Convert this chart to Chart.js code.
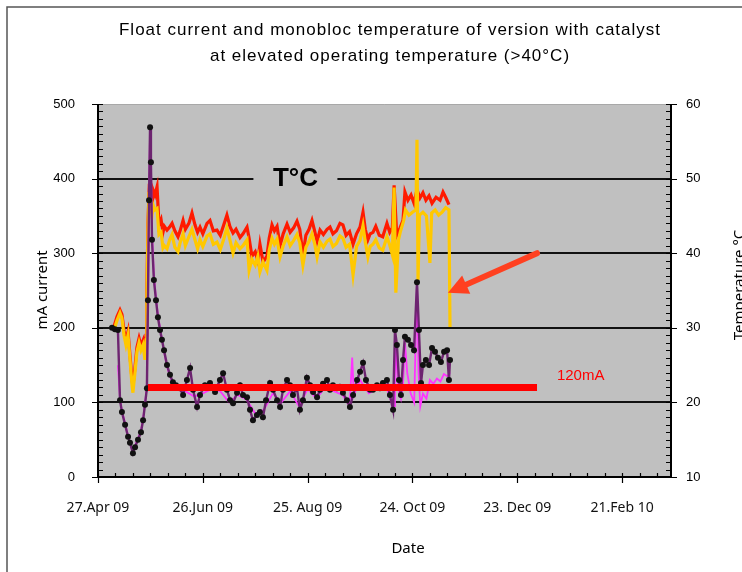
<!DOCTYPE html>
<html>
<head>
<meta charset="utf-8">
<script src="https://cdn.jsdelivr.net/npm/chart.js@4.4.0/dist/chart.umd.min.js"></script>
<style>
  html, body { margin: 0; padding: 0; background: #fff; }
</style>
</head>
<body>
<canvas id="floatChart" width="742" height="572"></canvas>
<script>
// x axis is days counted from 27 Apr 2009
var dateLabels = ["27.Apr 09", "26.Jun 09", "25. Aug 09", "24. Oct 09", "23. Dec 09", "21.Feb 10"];

// monobloc temperature, upper (red) trace, deg C
var tempRedDays = [
  9.2, 10.9, 12.6, 13.7, 14.9, 16.0, 17.2, 18.3, 19.5, 20.0,
  21.2, 22.3, 23.5, 24.6, 25.8, 26.9, 27.5, 28.0, 28.6, 29.2,
  29.8, 30.9, 31.5, 32.6, 33.8, 34.9, 36.1, 37.2,
  38, 39.5, 41, 42.4, 44, 45.8, 47, 48.7, 50, 52,
  53.8, 55.5, 57, 58.4, 60, 62.4, 64.1, 66, 68.1, 70,
  72, 73.8, 75.5, 77.3, 79, 81.3, 83, 85.3, 86.5, 88.1,
  90, 91.5, 92.7, 94.5, 96.7, 98, 99.6, 101, 102.5, 104.2,
  106, 108.2, 110, 112, 113.9, 115.5, 117.3, 119, 120.8, 122.5,
  124, 125.4, 127.1, 129, 131.1, 132.8, 134.5, 136.5, 138.5, 140.2,
  142, 144, 146, 148, 150, 151.7, 153, 154.5, 155.8, 157.4,
  159, 161, 163, 165.4, 167, 168.5,
  169.5, 171, 172.9, 174.6, 175.7, 177.4, 179.2, 180.9, 182.6, 184.3,
  186, 187.7, 189.5, 191.2, 193.5, 195.8, 197.5, 199.2, 200.9
];
var tempRed = [
  30.2, 31.5, 32.4, 31.8, 29.6, 28.3, 29.5, 26.3, 23.0, 22.2,
  24.8, 27.4, 28.6, 27.6, 28.3, 26.4, 29.0, 35.0, 44.0, 48.0,
  47.5, 46.3, 48.5, 47.8, 48.9, 43.8, 44.5, 42.8,
  43.6, 43.1, 43.5, 44.0, 43.0, 42.2, 43.0, 44.4, 43.2, 44.0,
  45.4, 43.8, 42.8, 43.5, 42.6, 44.0, 44.4, 43.0, 43.1, 42.4,
  43.8, 45.1, 43.6, 42.7, 43.2, 42.1, 42.6, 43.5, 42.0, 39.6,
  40.2, 39.0, 41.2, 38.8, 39.6, 42.0, 43.8, 43.0, 43.6, 41.0,
  42.6, 43.9, 42.8, 43.4, 44.3, 43.2, 39.8, 42.4, 43.2, 44.4,
  43.0, 41.6, 43.1, 42.5, 43.2, 43.5, 42.6, 43.0, 44.0, 43.8,
  42.4, 42.9, 41.2, 42.6, 43.5, 45.5, 43.2, 41.8, 42.6, 42.8,
  43.6, 42.4, 42.2, 44.0, 42.8, 43.4,
  49.1, 42.4, 43.4, 44.4, 48.2, 47.1, 47.8, 46.7, 48.5, 47.4,
  48.1, 47.1, 47.7, 46.7, 47.5, 47.1, 48.2, 47.4, 46.5
];

// monobloc temperature, lower (yellow) trace, deg C
var tempYellowDays = [
  9.2, 10.9, 12.6, 13.7, 14.9, 16.0, 17.2, 18.3, 19.5, 20.0,
  21.2, 22.3, 23.5, 24.6, 25.8, 26.9, 27.5, 28.0, 28.6, 29.2,
  29.8, 30.9, 31.5, 32.6, 33.8, 34.9, 36.1, 37.2,
  38, 39.5, 41, 42.4, 44, 45.8, 47, 48.7, 50, 52,
  53.8, 55.5, 57, 58.4, 60, 62.4, 64.1, 66, 68.1, 70,
  72, 73.8, 75.5, 77.3, 79, 81.3, 83, 85.3, 86.5, 88.1,
  90, 91.5, 92.7, 94.5, 96.7, 98, 99.6, 101, 102.5, 104.2,
  106, 108.2, 110, 112, 113.9, 115.5, 117.3, 119, 120.8, 122.5,
  124, 125.4, 127.1, 129, 131.1, 132.8, 134.5, 136.5, 138.5, 140.2,
  142, 144, 146, 148, 150, 151.7, 153, 154.5, 155.8, 157.4,
  159, 161, 163, 165.4, 167, 168.5,
  169.5, 170.5, 172, 173, 175, 176, 178, 180, 182, 182.6,
  183.2, 184, 186, 188, 190, 191, 193, 195, 197, 199,
  200.9, 201.5
];
var tempYellow = [
  29.7, 31.0, 32.0, 31.3, 29.0, 27.7, 29.0, 25.7, 22.3, 21.3,
  24.1, 26.8, 28.0, 27.0, 27.7, 25.7, 28.4, 34.1, 43.1, 48.2,
  47.1, 45.1, 46.5, 45.8, 46.0, 42.5, 42.8, 40.7,
  41.0, 40.6, 41.8, 42.5, 40.8, 40.2, 41.4, 42.6, 41.0, 42.2,
  43.2, 41.8, 40.6, 41.8, 40.9, 42.3, 42.6, 41.2, 41.5, 40.5,
  41.9, 43.4, 41.8, 40.0, 41.4, 40.6, 41.0, 41.8, 37.7, 39.2,
  38.4, 39.6, 37.5, 38.8, 37.7, 40.4, 42.0, 41.2, 41.9, 39.5,
  41.0, 42.2, 41.0, 41.7, 42.5, 41.4, 38.4, 40.8, 41.6, 42.6,
  41.3, 39.5, 41.5, 40.8, 41.6, 41.9, 40.9, 41.3, 42.3, 42.0,
  40.8, 41.2, 37.1, 40.9, 41.7, 43.7, 41.5, 39.5, 40.9, 41.2,
  41.8, 40.7, 40.4, 42.2, 41.1, 39.8,
  48.8, 34.7, 41.8, 42.8, 44.4, 45.8, 45.1, 45.5, 45.8, 55.2,
  36.4, 45.1, 45.5, 45.0, 38.7, 45.4, 45.8, 45.1, 45.5, 46.1,
  45.8, 30.1
];

// float current, black markers, mA
var currentBlackDays = [
  8.0, 9.7, 11.4, 12.6, 13.7, 15.5, 17.2, 18.3, 20.0, 21.2,
  22.9, 24.6, 25.8, 26.9, 28.0, 28.6, 29.2, 29.8, 30.3, 30.9,
  32.0, 33.2, 34.3, 35.5, 36.6, 37.8, 39.5, 41.2, 42.9, 44.6,
  46.9, 48.7, 50.9, 52.7, 54.4, 56.7, 58.4, 61.2, 64.1, 67.0,
  69.8, 71.6, 73.8, 75.6, 77.3, 79.6, 81.3, 83.0, 85.3, 87.0,
  88.7, 91.0, 92.7, 94.4, 96.2, 98.5, 100.2, 102.5, 104.2, 105.9,
  108.2, 109.9, 111.6, 113.9, 115.6, 117.3, 119.6, 121.4, 123.1, 125.4,
  127.1, 128.8, 131.1, 132.8, 134.5, 136.8, 138.5, 140.2, 142.5, 144.2,
  146.0, 148.3, 150.0, 151.7, 153.4, 155.7, 157.4, 159.7, 161.4, 163.1,
  165.4, 167.1, 168.9, 170.0, 171.1, 172.3, 173.4, 174.6, 175.7, 177.4,
  179.2, 180.9, 182.6, 183.7, 184.9, 186.0, 187.7, 189.5, 191.2, 192.9,
  194.6, 196.3, 198.1, 199.8, 200.9, 201.5
];
var currentBlack = [
  200, 198, 197, 103, 87, 70, 54, 46, 32, 40,
  50, 60, 76, 97, 119, 237, 371, 469, 422, 318,
  264, 237, 214, 197, 184, 170, 150, 137, 127, 123,
  119, 110, 130, 146, 117, 94, 110, 123, 126, 114,
  130, 139, 117, 103, 99, 113, 123, 110, 107, 90,
  76, 83, 87, 80, 103, 126, 117, 103, 94, 117,
  130, 123, 110, 119, 90, 103, 133, 123, 114, 107,
  117, 125, 130, 117, 123, 119, 121, 113, 103, 94,
  110, 130, 141, 153, 130, 117, 117, 123, 119, 126,
  130, 110, 90, 197, 177, 130, 110, 157, 188, 184,
  177, 170, 261, 197, 126, 150, 157, 150, 173, 168,
  160, 154, 168, 170, 130, 157
];

// float current, magenta trace, mA
var currentMagentaDays = [
  11.4, 12.6, 13.7, 15.5, 17.2, 18.3, 20.0, 21.2, 22.9, 24.6,
  25.8, 26.9, 28.0, 28.6, 29.2, 29.8, 30.3, 30.9, 32.0, 33.2,
  34.3, 35.5, 36.6, 37.8, 39.5, 41.2, 42.9, 44.6, 46.9, 50,
  55, 60, 65, 70, 75, 80, 85, 90, 95, 100,
  105, 110, 115, 120, 125, 130, 135, 140, 144, 145.5,
  146.5, 150, 155, 160, 165, 168, 169.5, 170, 171, 172,
  173.4, 174.6, 175.7, 177, 179, 181, 182.6, 183.5, 184.5, 186,
  188, 190, 192, 194, 196, 198, 200, 201.5
];
var currentMagenta = [
  150, 105, 88, 72, 55, 47, 33, 42, 52, 62,
  78, 99, 121, 240, 372, 465, 420, 330, 270, 240,
  217, 200, 185, 168, 148, 135, 125, 120, 116, 115,
  108, 112, 118, 115, 100, 110, 104, 85, 90, 112,
  100, 115, 95, 118, 105, 120, 115, 110, 95, 160,
  110, 130, 112, 118, 122, 100, 95, 190, 150, 118,
  105, 125, 180, 140, 112, 100, 261, 140, 95, 112,
  105, 130, 125, 132, 128, 138, 135, 140
];

// 120 mA reference level
var limitDays = [28.6, 251.3];
var limitCurrent = [120, 120];

function pts(days, vals) {
  return days.map(function (d, i) { return { x: d, y: vals[i] }; });
}

var tickFont = { family: "'Liberation Sans', Arial, sans-serif", size: 13 };
var dateFont = { family: "'Noto Sans', 'DejaVu Sans', sans-serif", size: 14 };

var decor = {
  id: 'decor',
  beforeDraw: function (chart) {
    var c = chart.ctx, a = chart.chartArea;
    c.save();
    c.fillStyle = '#fff';
    c.fillRect(0, 0, chart.width, chart.height);
    c.fillStyle = '#c0c0c0';
    c.fillRect(a.left, a.top, a.right - a.left, a.bottom - a.top);
    c.restore();
  },
  afterDraw: function (chart) {
    var c = chart.ctx, a = chart.chartArea;
    var xs = chart.scales.x, ys = chart.scales.y, ts = chart.scales.y1;
    var v, p;
    c.save();

    // axis lines
    c.strokeStyle = '#000';
    c.lineWidth = 2;
    c.beginPath();
    c.moveTo(a.left, a.top); c.lineTo(a.left, a.bottom + 1);
    c.moveTo(a.right, a.top); c.lineTo(a.right, a.bottom + 1);
    c.moveTo(a.left - 1, a.bottom); c.lineTo(a.right + 1, a.bottom);
    c.stroke();
    c.strokeStyle = '#a8a8a8';
    c.lineWidth = 1;
    c.beginPath();
    c.moveTo(a.left, a.top + 0.5); c.lineTo(a.right, a.top + 0.5);
    c.stroke();

    // tick marks
    c.strokeStyle = '#000';
    c.lineWidth = 1.2;
    c.beginPath();
    for (v = 0; v <= 500; v += 10) {
      p = Math.round(ys.getPixelForValue(v)) + 0.5;
      c.moveTo(v % 100 === 0 ? a.left - 6 : a.left, p);
      c.lineTo(a.left + 5, p);
    }
    for (v = 10; v <= 60; v += 1) {
      p = Math.round(ts.getPixelForValue(v)) + 0.5;
      c.moveTo(a.right - 5, p);
      c.lineTo(v % 10 === 0 ? a.right + 6 : a.right, p);
    }
    for (v = 0; v <= xs.max; v += 10) {
      p = Math.round(xs.getPixelForValue(v)) + 0.5;
      c.moveTo(p, a.bottom - 4);
      c.lineTo(p, v % 60 === 0 ? a.bottom + 6 : a.bottom);
    }
    c.stroke();

    // T°C label sitting on the 400 mA gridline
    var tx = xs.getPixelForValue(113), ty = ys.getPixelForValue(400);
    c.fillStyle = '#c0c0c0';
    c.fillRect(tx - 42, ty - 11, 84, 22);
    c.fillStyle = '#000';
    c.font = "bold 26px 'Liberation Sans', Arial, sans-serif";
    c.textAlign = 'center';
    c.textBaseline = 'middle';
    c.fillText('T°C', tx, ty);

    // 120mA label
    c.fillStyle = '#ff0000';
    c.font = "15px 'Liberation Sans', Arial, sans-serif";
    c.textAlign = 'left';
    c.fillText('120mA', xs.getPixelForValue(262.7), ys.getPixelForValue(135));

    // arrow pointing at the temperature drop
    var x0 = xs.getPixelForValue(251.3), y0 = ts.getPixelForValue(40.0);
    var x1 = xs.getPixelForValue(200.3), y1 = ts.getPixelForValue(34.7);
    var ang = Math.atan2(y1 - y0, x1 - x0);
    c.strokeStyle = '#ff4020';
    c.fillStyle = '#ff4020';
    c.lineWidth = 6;
    c.lineCap = 'round';
    c.beginPath();
    c.moveTo(x0, y0);
    c.lineTo(x1 - 12 * Math.cos(ang), y1 - 12 * Math.sin(ang));
    c.stroke();
    c.beginPath();
    c.moveTo(x1, y1);
    c.lineTo(x1 - 20 * Math.cos(ang) + 10 * Math.sin(ang), y1 - 20 * Math.sin(ang) - 10 * Math.cos(ang));
    c.lineTo(x1 - 20 * Math.cos(ang) - 10 * Math.sin(ang), y1 - 20 * Math.sin(ang) + 10 * Math.cos(ang));
    c.closePath();
    c.fill();

    // titles
    c.fillStyle = '#000';
    c.textAlign = 'center';
    c.textBaseline = 'middle';
    c.font = "17px 'Liberation Sans', Arial, sans-serif";
    c.letterSpacing = '1px';
    c.fillText('Float current and monobloc temperature of version with catalyst', 390, 30);
    c.fillText('at elevated operating temperature (>40°C)', 390, 56);
    c.letterSpacing = '0px';

    c.font = "15px 'Noto Sans', 'DejaVu Sans', sans-serif";
    c.fillText('Date', 408, 549);

    c.save();
    c.translate(43, 290);
    c.rotate(-Math.PI / 2);
    c.fillText('mA current', 0, 0);
    c.restore();

    c.save();
    c.translate(744, 285);
    c.rotate(-Math.PI / 2);
    c.textBaseline = 'alphabetic';
    c.fillText('Temperature °C', 0, 0);
    c.restore();

    // outer frame
    c.strokeStyle = '#555';
    c.lineWidth = 1.5;
    c.beginPath();
    c.moveTo(7, 572); c.lineTo(7, 7); c.lineTo(742, 7);
    c.stroke();

    c.restore();
  }
};

var ctx = document.getElementById('floatChart').getContext('2d');
var myChart = new Chart(ctx, {
  type: 'line',
  data: {
    datasets: [
      {
        label: '120mA',
        data: pts(limitDays, limitCurrent),
        yAxisID: 'y',
        borderColor: '#ff0000',
        borderWidth: 7,
        borderCapStyle: 'butt',
        pointRadius: 0,
        order: 0
      },
      {
        label: 'Float current',
        data: pts(currentBlackDays, currentBlack),
        yAxisID: 'y',
        borderColor: '#6d2470',
        borderWidth: 2.4,
        pointRadius: 3,
        pointBackgroundColor: '#111',
        pointBorderWidth: 0,
        order: 1
      },
      {
        label: 'Float current 2',
        data: pts(currentMagentaDays, currentMagenta),
        yAxisID: 'y',
        borderColor: '#ff33ff',
        borderWidth: 1.8,
        pointRadius: 0,
        order: 2
      },
      {
        label: 'Temperature 2',
        data: pts(tempYellowDays, tempYellow),
        yAxisID: 'y1',
        borderColor: '#ffc800',
        borderWidth: 3.2,
        pointRadius: 0,
        order: 3
      },
      {
        label: 'Temperature',
        data: pts(tempRedDays, tempRed),
        yAxisID: 'y1',
        borderColor: '#ff1a00',
        borderWidth: 3.2,
        pointRadius: 0,
        order: 4
      }
    ]
  },
  options: {
    responsive: false,
    animation: false,
    events: [],
    layout: { padding: { top: 104, left: 0, right: 0, bottom: 0 } },
    elements: { line: { tension: 0, fill: false } },
    scales: {
      x: {
        type: 'linear',
        min: 0,
        max: 328,
        afterFit: function (s) { s.height = 95; },
        grid: { display: false },
        border: { display: false },
        ticks: {
          stepSize: 60,
          autoSkip: false,
          maxRotation: 0,
          padding: 15,
          color: '#111',
          font: dateFont,
          callback: function (v) { return v % 60 === 0 ? dateLabels[v / 60] : ''; }
        }
      },
      y: {
        position: 'left',
        min: 0,
        max: 500,
        afterFit: function (s) { s.width = 98; },
        border: { display: false },
        grid: {
          drawTicks: false,
          lineWidth: 2,
          color: function (c) {
            var val = c.tick ? c.tick.value : 0;
            return (val > 0 && val < 500) ? '#111' : 'rgba(0,0,0,0)';
          }
        },
        ticks: { stepSize: 100, padding: 23, color: '#000', font: tickFont }
      },
      y1: {
        position: 'right',
        min: 10,
        max: 60,
        afterFit: function (s) { s.width = 71; },
        border: { display: false },
        grid: { drawOnChartArea: false, drawTicks: false },
        ticks: { stepSize: 10, padding: 15, color: '#000', font: tickFont }
      }
    },
    plugins: {
      legend: { display: false },
      tooltip: { enabled: false },
      title: { display: false }
    }
  },
  plugins: [decor]
});
</script>
</body>
</html>
